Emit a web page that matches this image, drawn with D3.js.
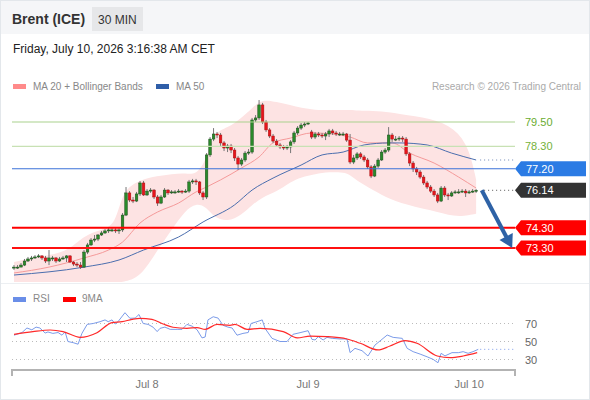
<!DOCTYPE html>
<html><head><meta charset="utf-8">
<script src="https://cdn.jsdelivr.net/npm/d3@7"></script>
<style>
html,body{margin:0;padding:0;background:#fff;}
svg{display:block;font-family:"Liberation Sans",Arial,Helvetica,sans-serif;}
</style></head><body>
<svg id="c" width="590" height="400"></svg>
<script>
// ---------- data (30-minute candles, Brent ICE) ----------
const dayTickIdx = [38, 84, 130];
const dayLabels = ["Jul 8", "Jul 9", "Jul 10"];

const opens = [72.32,72.36,72.36,72.46,72.66,72.76,72.81,72.86,72.91,72.81,72.66,72.81,72.81,72.66,72.76,72.81,72.91,72.61,72.51,72.46,
72.36,73.10,73.45,73.69,73.74,73.94,74.04,74.14,74.19,74.19,74.14,74.19,74.92,76.01,75.66,75.61,75.96,76.50,75.91,76.10,
76.15,75.81,75.51,75.81,76.15,76.01,76.06,76.06,76.10,76.06,76.10,76.55,76.60,76.55,76.01,75.81,77.88,78.66,78.91,78.86,
78.47,78.22,78.32,78.12,77.73,77.43,77.63,77.97,78.02,79.60,79.70,80.34,79.50,79.11,78.81,78.56,78.37,78.27,78.22,78.27,
78.52,78.96,79.20,79.35,79.40,79.01,78.76,78.91,78.86,78.81,78.91,79.06,78.96,78.91,78.91,78.91,78.61,77.53,77.73,77.93,
77.78,77.63,77.29,76.84,77.33,77.63,78.02,78.12,78.86,78.66,78.66,78.71,78.66,77.93,77.48,77.19,77.04,76.79,76.50,76.30,
76.10,75.91,75.61,76.25,75.91,75.86,76.01,76.06,76.06,76.10,76.01,76.06,76.10];
const highs = [72.46,72.46,72.56,72.76,72.86,72.91,72.95,73.00,72.95,72.91,73.20,72.91,72.86,72.86,72.91,72.95,72.95,72.66,72.61,72.61,
73.20,73.55,73.79,73.94,73.99,74.14,74.23,74.28,74.28,74.28,74.33,75.02,76.30,76.10,75.81,76.06,76.60,76.60,76.20,76.25,
76.20,75.91,75.91,76.25,76.20,76.15,76.15,76.20,76.15,76.20,76.65,76.70,76.70,76.60,76.10,77.97,78.76,79.20,79.01,78.96,
78.56,78.42,78.42,78.22,77.83,77.73,78.07,78.17,79.70,79.84,80.58,80.44,79.60,79.20,78.91,78.66,78.47,78.37,78.37,78.61,
79.06,79.30,79.45,79.50,79.50,79.11,79.01,79.01,78.96,79.01,79.16,79.16,79.06,79.01,79.01,78.96,78.91,77.88,78.02,78.02,
77.88,77.73,77.38,77.43,77.73,78.12,78.22,79.25,78.96,78.81,78.81,78.81,78.76,78.02,77.58,77.29,77.14,76.89,76.60,76.40,
76.20,76.01,76.35,76.35,76.01,76.10,76.15,76.20,76.20,76.20,76.15,76.20,76.20];
const lows = [72.22,72.27,72.36,72.41,72.61,72.66,72.76,72.81,72.71,72.56,72.46,72.66,72.56,72.61,72.71,72.61,72.56,72.41,72.36,72.27,
72.32,73.00,73.40,73.59,73.64,73.89,73.99,74.04,74.09,74.04,73.99,74.09,74.87,75.56,75.51,75.56,75.86,75.86,75.86,76.01,
75.71,75.37,75.46,75.76,75.91,75.96,75.96,76.01,75.96,76.01,76.01,76.45,76.40,75.91,75.66,75.71,77.78,78.56,78.71,78.32,
78.07,78.02,77.97,77.58,77.14,77.33,77.53,77.88,77.93,79.50,79.60,79.40,79.01,78.71,78.47,78.27,78.17,78.12,78.12,77.97,
78.42,78.86,79.11,79.25,79.35,78.66,78.66,78.76,78.71,78.61,78.76,78.86,78.81,78.81,78.81,78.52,77.43,77.43,77.63,77.68,
77.53,77.19,76.74,76.79,77.24,77.58,77.93,78.02,78.52,78.56,78.56,78.52,77.83,77.33,77.04,76.89,76.70,76.40,76.20,76.01,
75.81,75.51,75.56,75.81,75.66,75.81,75.96,75.96,76.01,75.81,75.96,76.01,76.01];
const closes = [72.36,72.36,72.46,72.66,72.76,72.81,72.86,72.91,72.81,72.66,72.81,72.81,72.66,72.76,72.81,72.91,72.61,72.51,72.46,72.36,
73.10,73.45,73.69,73.74,73.94,74.04,74.14,74.19,74.19,74.14,74.19,74.92,76.01,75.66,75.61,75.96,76.50,75.91,76.10,76.15,
75.81,75.51,75.81,76.15,76.01,76.06,76.06,76.10,76.06,76.10,76.55,76.60,76.55,76.01,75.81,77.88,78.66,78.91,78.86,78.47,
78.22,78.32,78.12,77.73,77.43,77.63,77.97,78.02,79.60,79.70,80.34,79.50,79.11,78.81,78.56,78.37,78.27,78.22,78.27,78.52,
78.96,79.20,79.35,79.40,79.45,78.76,78.91,78.86,78.81,78.91,79.06,78.96,78.91,78.91,78.91,78.61,77.53,77.73,77.93,77.78,
77.63,77.29,76.84,77.33,77.63,78.02,78.12,78.86,78.66,78.66,78.71,78.66,77.93,77.48,77.19,77.04,76.79,76.50,76.30,76.10,
75.91,75.61,76.25,75.91,75.86,76.01,76.06,76.06,76.10,76.01,76.06,76.10,76.14];

// Bollinger bands (20) read at knots
const bandIdx   = [0,6,15,20,25,29,31,36,41,45,49,52,55,57,61,65,68,71,75,79,82,86,90,95,97,100,105,110,119,126,130,132];
const bandUpper = [72.61,72.86,73.05,73.94,74.19,74.43,76.15,76.65,76.84,76.94,76.99,76.89,77.63,79.01,79.20,79.70,80.19,80.63,80.48,80.34,80.19,80.09,80.09,80.09,80.09,80.04,80.04,79.89,79.70,79.20,78.22,76.65];
const bandLower = [71.63,71.63,71.63,71.53,71.48,71.58,71.63,71.82,73.20,74.19,75.17,75.51,75.32,74.82,74.58,74.92,75.42,75.81,76.06,76.55,76.79,76.94,77.04,77.04,76.74,76.40,75.91,75.51,75.17,74.82,74.92,74.98];
// MA 20
const ma20Idx = [0,10,20,27,31,36,41,47,52,55,59,65,70,74,79,85,91,96,101,108,113,120,127,132];
const ma20Val = [72.07,72.36,72.81,73.20,73.59,74.53,75.07,75.51,76.06,76.30,76.65,77.24,77.78,78.47,78.71,78.96,78.91,78.76,78.47,78.47,77.97,77.48,76.79,76.25];
// MA 50
const ma50Idx = [0,20,30,37,47,54,63,68,74,82,88,94,100,107,110,118,125,132];
const ma50Val = [71.97,72.36,72.71,73.20,73.84,74.58,75.42,76.15,76.74,77.38,77.88,78.02,78.37,78.47,78.47,78.37,77.97,77.63];

// key levels
const levelValues = [79.50, 78.30, 77.20, 76.14, 74.30, 73.30];
const levelKinds  = ["res1", "res2", "pivot", "last", "sup1", "sup2"];
// projected path
const projIdx = [133.6, 142.3];
const projVal = [76.14, 73.30];

// RSI (14) and its 9-period MA
const rsiIdx = [0,2.3,3.7,5.1,6.3,7.4,8.9,9.7,11.1,12.6,13.7,14.6,15.4,16.9,18.3,19.4,20.9,22.6,24.6,26,26.9,28,28.9,29.7,31.7,33.1,34.6,35.7,36.9,38.3,
39.7,40.9,41.7,43.1,44.6,46.6,48,49.4,50.9,52.3,53.7,54.6,55.4,56.9,58.3,59.7,61.1,62.3,63.7,65.4,66.9,67.7,69.4,70.9,71.7,73.7,76,78,79.7,81.7,
84,85.1,86,86.9,88.3,89.4,90.9,93.1,95.1,96,97.4,99.4,101.1,103.1,105.1,106.6,108.3,110.9,112.3,114,116,118,119.7,121.1,122,123.1,125.1,126.9,128.3,129.7,131.1,132.6];
const rsiVal = [57,60,65,63,66,65,59.4,60.6,59,60,57,60.6,50,48.7,47,59,69,70,72,74,72,74,69.4,72,82,75.8,76,80,70,69,
66,61,64.6,66,63.5,63.5,63.5,69,67,63,54,55,74,77.5,76,68,66,65,57,59,60,70,72,74,64.6,53.5,50,50,58,59.8,
62,52.4,51.7,55.4,51.7,54.6,53.5,52.8,52.8,37.6,42.4,39.8,33.9,46,52.4,57.2,54.6,53.5,42.4,38.7,36,33,30.2,26.4,36.9,34,37.6,37.6,38.7,36.9,38.7,41.3];
const ma9Idx = [0,5.4,10.3,14,18.9,23.7,28,30.9,33.7,36,39.4,42.6,45.4,49.4,52.3,54.6,58,61.7,63.1,66.6,70.3,76.9,80.9,84.6,89.4,95.1,98.9,104,107.4,111.7,115.1,120.9,124.6,128.3,132.3];
const ma9Val = [58,61,62.8,61,54.6,59.8,71,72,74.6,75.8,74.6,69.4,65.8,64.6,65.5,63.5,69,68,69,63.5,64.6,61,54,56,55.4,52.8,48,40.6,45,50.9,48,33.9,32,33.9,37.6];
const rsiLevels = [70, 50, 30];

// ---------- drawing ----------
const svg = d3.select("#c");
const x = d3.scaleLinear().domain([-0.57, 143.1]).range([12, 515]);
const y = d3.scaleLinear().domain([79.5, 73.3]).range([122, 248]);
const yr = d3.scaleLinear().domain([70, 30]).range([323.5, 359.5]);

svg.append("rect").attr("width", 590).attr("height", 400).attr("fill", "#fff");
svg.append("rect").attr("width", 590).attr("height", 34).attr("fill", "#f5f6f8");
svg.append("line").attr("x1", 0).attr("x2", 590).attr("y1", 283.5).attr("y2", 283.5).attr("stroke", "#eceff2");
svg.append("rect").attr("x", 0.5).attr("y", 0.5).attr("width", 589).attr("height", 399)
  .attr("fill", "none").attr("stroke", "#e3e7eb");

// header
svg.append("text").attr("x", 12).attr("y", 24).attr("font-size", 14).attr("font-weight", "bold")
  .attr("fill", "#333").text("Brent (ICE)");
svg.append("rect").attr("x", 92).attr("y", 7).attr("width", 51).attr("height", 24).attr("fill", "#e6e7e9");
svg.append("text").attr("x", 98).attr("y", 24).attr("font-size", 12).attr("fill", "#333").text("30 MIN");
svg.append("text").attr("x", 13).attr("y", 53).attr("font-size", 12).attr("fill", "#222")
  .text("Friday, July 10, 2026 3:16:38 AM CET");

// legend
svg.append("rect").attr("x", 13).attr("y", 84).attr("width", 13).attr("height", 5).attr("fill", "#ff8a8a");
svg.append("text").attr("x", 33).attr("y", 90).attr("font-size", 10).attr("fill", "#888").text("MA 20 + Bollinger Bands");
svg.append("rect").attr("x", 156).attr("y", 84).attr("width", 13).attr("height", 5).attr("fill", "#2f5ea8");
svg.append("text").attr("x", 176).attr("y", 90).attr("font-size", 10).attr("fill", "#888").text("MA 50");
svg.append("text").attr("x", 581).attr("y", 90).attr("font-size", 10).attr("fill", "#aaa")
  .attr("text-anchor", "end").text("Research © 2026 Trading Central");

// clip
svg.append("clipPath").attr("id", "mainClip").append("rect")
  .attr("x", 12).attr("y", 92).attr("width", 503).attr("height", 190);
const main = svg.append("g").attr("clip-path", "url(#mainClip)");

// bollinger band
const band = bandIdx.map((d, i) => ({ i: d, u: bandUpper[i], l: bandLower[i] }));
main.append("path").datum(band)
  .attr("d", d3.area().x(d => x(d.i)).y0(d => y(d.l)).y1(d => y(d.u)).curve(d3.curveBasis))
  .attr("fill", "#fde3e3");

// level lines
const levelStyle = {
  res1: { stroke: "#a9d18e", w: 1.2 }, res2: { stroke: "#c8e1b4", w: 1.2 },
  pivot: { stroke: "#3b72d8", w: 1.2 }, sup1: { stroke: "#ff0000", w: 2 }, sup2: { stroke: "#ff1010", w: 2.2 }
};
levelValues.forEach((v, k) => {
  const s = levelStyle[levelKinds[k]];
  if (!s) return;
  svg.append("line").attr("x1", 12).attr("x2", 515).attr("y1", y(v)).attr("y2", y(v))
    .attr("stroke", s.stroke).attr("stroke-width", s.w);
});

// MA lines
const ma20 = ma20Idx.map((d, i) => [x(d), y(ma20Val[i])]);
main.append("path").attr("d", d3.line().curve(d3.curveMonotoneX)(ma20))
  .attr("fill", "none").attr("stroke", "#f59a9a").attr("stroke-width", 1);
const ma50 = ma50Idx.map((d, i) => [x(d), y(ma50Val[i])]);
main.append("path").attr("d", d3.line().curve(d3.curveMonotoneX)(ma50))
  .attr("fill", "none").attr("stroke", "#4b6eae").attr("stroke-width", 1);

// candles
const n = closes.length;
const cw = 2.6;
for (let i = 0; i < n; i++) {
  const up = closes[i] >= opens[i];
  main.append("line").attr("x1", x(i)).attr("x2", x(i)).attr("y1", y(highs[i])).attr("y2", y(lows[i]))
    .attr("stroke", "#777").attr("stroke-width", 1);
  const top = y(Math.max(opens[i], closes[i]));
  const h = Math.max(1, Math.abs(y(opens[i]) - y(closes[i])));
  main.append("rect").attr("x", x(i) - cw / 2).attr("y", top).attr("width", cw).attr("height", h)
    .attr("fill", up ? "#2a8a2a" : "#e8141c").attr("stroke", up ? "#1b4f1b" : "#a51212").attr("stroke-width", 0.5);
}

// dotted extensions
const lastI = n - 1;
svg.append("line").attr("x1", x(lastI) + 8).attr("x2", 515).attr("y1", y(closes[lastI])).attr("y2", y(closes[lastI]))
  .attr("stroke", "#555").attr("stroke-width", 1).attr("stroke-dasharray", "1,3");
svg.append("line").attr("x1", x(ma50Idx[ma50Idx.length - 1]) + 4).attr("x2", 515)
  .attr("y1", y(ma50Val[ma50Val.length - 1])).attr("y2", y(ma50Val[ma50Val.length - 1]))
  .attr("stroke", "#6d86b5").attr("stroke-width", 1).attr("stroke-dasharray", "1,3");

// projection arrow
{
  const p0 = [x(projIdx[0]), y(projVal[0])], p1 = [x(projIdx[1]), y(projVal[1])];
  const dx = p1[0] - p0[0], dy = p1[1] - p0[1], L = Math.hypot(dx, dy), ux = dx / L, uy = dy / L;
  const hl = 13, hw = 7.5;
  const bx = p1[0] - ux * hl, by = p1[1] - uy * hl;
  svg.append("line").attr("x1", p0[0]).attr("y1", p0[1]).attr("x2", bx + ux * 2).attr("y2", by + uy * 2)
    .attr("stroke", "#2e62a6").attr("stroke-width", 4);
  svg.append("polygon").attr("points", [[p1[0], p1[1]], [bx - uy * hw, by + ux * hw], [bx + uy * hw, by - ux * hw]].map(p => p.join(",")).join(" "))
    .attr("fill", "#2e62a6");
}

// level labels
const labelStyle = {
  res1: { text: "#6aac2f" }, res2: { text: "#74b23a" },
  pivot: { box: "#2b7be4" }, last: { box: "#333333" }, sup1: { box: "#ff0000" }, sup2: { box: "#ff0000" }
};
levelValues.forEach((v, k) => {
  const s = labelStyle[levelKinds[k]];
  const yy = y(v);
  if (s.box) {
    const t = yy - 7.5, b = yy + 7.5;
    svg.append("polygon").attr("points", `515,${yy} 521,${t} 586,${t} 586,${b} 521,${b}`).attr("fill", s.box);
    svg.append("text").attr("x", 526).attr("y", yy + 4).attr("font-size", 11).attr("fill", "#fff").text(v.toFixed(2));
  } else {
    svg.append("text").attr("x", 525).attr("y", yy + 4).attr("font-size", 11).attr("fill", s.text).text(v.toFixed(2));
  }
});

// ---------- RSI panel ----------
svg.append("rect").attr("x", 13).attr("y", 297).attr("width", 13).attr("height", 5).attr("fill", "#6a8ee8");
svg.append("text").attr("x", 33).attr("y", 302).attr("font-size", 10).attr("fill", "#888").text("RSI");
svg.append("rect").attr("x", 63).attr("y", 297).attr("width", 13).attr("height", 5).attr("fill", "#ff0000");
svg.append("text").attr("x", 82).attr("y", 302).attr("font-size", 10).attr("fill", "#888").text("9MA");

rsiLevels.forEach(v => {
  svg.append("line").attr("x1", 12).attr("x2", 515).attr("y1", yr(v)).attr("y2", yr(v))
    .attr("stroke", "#bbb").attr("stroke-width", 1).attr("stroke-dasharray", "1,3");
  svg.append("text").attr("x", 525).attr("y", yr(v) + 4).attr("font-size", 11).attr("fill", "#666").text(v);
});

const rsiPts = rsiIdx.map((d, i) => [x(d), yr(rsiVal[i])]);
svg.append("path").attr("d", d3.line()(rsiPts)).attr("fill", "none").attr("stroke", "#7b9be9").attr("stroke-width", 1);
const lastR = rsiPts[rsiPts.length - 1];
svg.append("line").attr("x1", lastR[0] + 2).attr("x2", 515).attr("y1", lastR[1]).attr("y2", lastR[1])
  .attr("stroke", "#7b9be9").attr("stroke-width", 1).attr("stroke-dasharray", "1,3");
const ma9Pts = ma9Idx.map((d, i) => [x(d), yr(ma9Val[i])]);
svg.append("path").attr("d", d3.line().curve(d3.curveMonotoneX)(ma9Pts)).attr("fill", "none")
  .attr("stroke", "#ff2a2a").attr("stroke-width", 1.2);

// x axis
svg.append("path").attr("d", "M12,376V370H515V376").attr("fill", "none").attr("stroke", "#b3b3b3").attr("stroke-width", 2);
dayTickIdx.forEach((d, k) => {
  svg.append("text").attr("x", x(d)).attr("y", 388).attr("font-size", 11).attr("fill", "#777")
    .attr("text-anchor", "middle").text(dayLabels[k]);
});
</script>
</body></html>
